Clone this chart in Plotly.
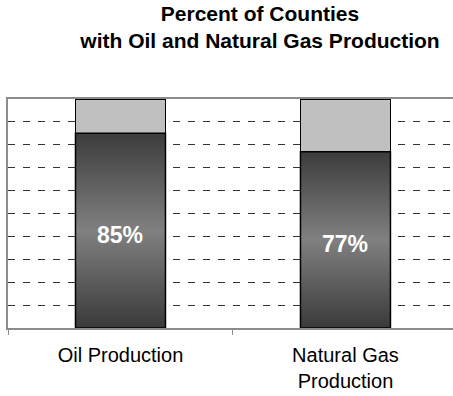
import plotly.graph_objects as go

# Share of counties with / without production
categories = ["Oil Production", "Natural Gas<br>Production"]
with_production = [85, 77]
without_production = [15, 23]
value_labels = ["85%", "77%"]

bar_width = 0.4
x_range = [-0.5, 1.478]
font_family = "Liberation Sans, Arial, sans-serif"

fig = go.Figure()

# Stacked 100% bars on the category axis
fig.add_trace(go.Bar(
    x=categories, y=with_production, width=bar_width,
    marker=dict(color="#5a5a5a", line=dict(color="black", width=1.5)),
    hoverinfo="skip", showlegend=False,
))
fig.add_trace(go.Bar(
    x=categories, y=without_production, width=bar_width,
    marker=dict(color="#c0c0c0", line=dict(color="black", width=1.5)),
    hoverinfo="skip", showlegend=False,
))

# Shaded (vertical gradient) fill for the lower segment, on an overlaid numeric axis
for i, v in enumerate(with_production):
    x0, x1 = i - bar_width / 2, i + bar_width / 2
    fig.add_trace(go.Scatter(
        x=[x0, x1, x1, x0, x0], y=[0, 0, v, v, 0],
        xaxis="x2", mode="lines", fill="toself",
        fillgradient=dict(
            type="vertical",
            colorscale=[[0, "#3a3a3a"], [0.5, "#808080"], [1, "#3c3c3c"]],
        ),
        line=dict(color="black", width=1.5),
        hoverinfo="skip", showlegend=False,
    ))

# Value labels in the middle of the lower segment
annotations = [
    dict(
        x=i, y=v / 2, xref="x2", yref="y", text=label, showarrow=False,
        yshift=-4,
        font=dict(family=font_family, size=23, color="white", weight="bold"),
    )
    for i, (v, label) in enumerate(zip(with_production, value_labels))
]

fig.update_layout(
    width=453, height=396,
    margin=dict(l=8, r=0, t=99, b=68),
    paper_bgcolor="white", plot_bgcolor="white",
    barmode="stack",
    annotations=annotations,
    title=dict(
        text="Percent of Counties<br>with Oil and Natural Gas Production",
        x=0.574, xref="container", xanchor="center",
        y=0.948, yref="container", yanchor="top",
        font=dict(family=font_family, size=21, color="black", weight="bold"),
    ),
    xaxis=dict(
        type="category", range=x_range,
        showline=True, linecolor="#8c8c8c", linewidth=2, mirror=True,
        ticks="outside", tickson="boundaries", ticklen=5,
        tickcolor="#8c8c8c", tickwidth=1,
        showgrid=False, zeroline=False, ticklabelstandoff=8,
        tickfont=dict(family=font_family, size=20, color="black"),
    ),
    xaxis2=dict(
        overlaying="x", range=x_range, visible=False,
    ),
    yaxis=dict(
        range=[0, 100], dtick=10,
        showgrid=True, gridcolor="#333333", gridwidth=1, griddash="7px,8px",
        showline=True, linecolor="#8c8c8c", linewidth=2,
        showticklabels=False, ticks="", zeroline=False,
    ),
)

fig.write_html("out.html")
